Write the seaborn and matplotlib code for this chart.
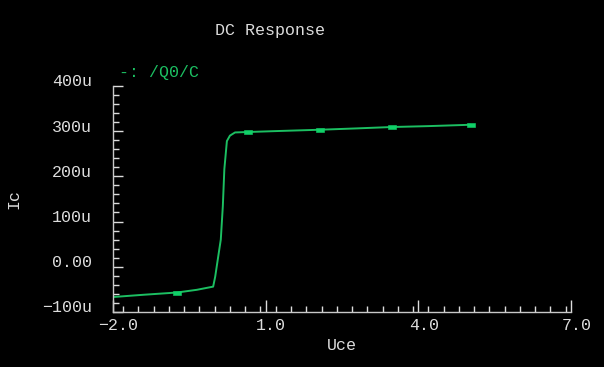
import numpy as np
import pandas as pd
import seaborn as sns
import matplotlib.pyplot as plt
import matplotlib.transforms as mtransforms
from matplotlib.ticker import MultipleLocator, FixedLocator

# DC sweep (Uce in V, Ic in uA)
uce = [-2.0, -1.4, -0.74, -0.35, -0.03, 0.01, 0.07, 0.12, 0.16, 0.19,
       0.24, 0.30, 0.40, 0.66, 1.2, 2.07, 2.8, 3.48, 4.2, 5.03]
ic = [-67, -62, -57, -51, -44, -22, 23, 60, 134, 216,
      278, 290, 297, 298, 300, 303, 306, 309, 311, 314]
marker_idx = [2, 13, 15, 17, 19]

x_ticks = [-2.0, 1.0, 4.0, 7.0]
x_labels = ['\u22122.0', '1.0', '4.0', '7.0']
y_ticks = [-100, 0, 100, 200, 300, 400]
y_labels = ['\u2212100u', '0.00', '100u', '200u', '300u', '400u']

fg = '#dcdcdc'
green = '#1cbf62'
mono = ['Liberation Mono', 'DejaVu Sans Mono']

sns.set_style('dark')
plt.rcParams['font.family'] = mono

fig = plt.figure(figsize=(6.04, 3.67), dpi=100, facecolor='black')
ax = fig.add_axes([0.187, 0.150, 0.758, 0.616])
ax.set_facecolor('black')

# flat rectangle marker like the Cadence waveform markers
rect = [(-2, -1), (2, -1), (2, 1), (-2, 1), (-2, -1)]

df = pd.DataFrame({'Uce': uce, 'Ic': ic})
sns.lineplot(data=df, x='Uce', y='Ic', ax=ax, color=green, linewidth=1.4,
             marker=rect, markersize=6, markevery=marker_idx,
             markeredgewidth=0.4, markeredgecolor='#10d068',
             markerfacecolor='#10d068')

ax.set_xlim(-2.0, 7.0)
ax.set_ylim(-100, 400)
ax.xaxis.set_major_locator(FixedLocator(x_ticks))
ax.yaxis.set_major_locator(FixedLocator(y_ticks))
ax.xaxis.set_minor_locator(MultipleLocator(0.3))
ax.yaxis.set_minor_locator(MultipleLocator(20))
ax.set_xticklabels(x_labels)
ax.set_yticklabels(y_labels)
ax.tick_params(which='both', direction='in', colors=fg, labelcolor=fg,
               labelsize=12, width=1)
ax.tick_params(axis='y', which='major', length=7, pad=15)
ax.tick_params(axis='x', which='major', length=9, pad=4)
ax.tick_params(which='minor', length=4)
ax.tick_params(axis='y', which='both', left=True)
ax.tick_params(axis='x', which='both', bottom=True)
ax.grid(False)

# y tick labels sit a little above their ticks in the reference
up = mtransforms.ScaledTranslation(0, 4 / 72, fig.dpi_scale_trans)
for lab in ax.get_yticklabels():
    lab.set_transform(lab.get_transform() + up)
# x tick labels shifted slightly right
right = mtransforms.ScaledTranslation(4 / 72, 0, fig.dpi_scale_trans)
for lab in ax.get_xticklabels():
    lab.set_transform(lab.get_transform() + right)

for s in ['top', 'right']:
    ax.spines[s].set_visible(False)
for s in ['left', 'bottom']:
    ax.spines[s].set_visible(True)
    ax.spines[s].set_color('#c8c8c8')
    ax.spines[s].set_linewidth(1)

ax.set_xlabel('Uce', color=fg, fontsize=12, labelpad=4)
ax.set_ylabel('Ic', color=fg, fontsize=12, labelpad=0)
ax.yaxis.set_label_coords(-0.2, 0.5)
fig.text(0.447, 0.918, 'DC Response', color=fg, fontsize=12, ha='center', va='center')
fig.text(0.197, 0.803, '-: /Q0/C', color=green, fontsize=12, ha='left', va='center')

fig.savefig('out.png', dpi=100, facecolor='black')
